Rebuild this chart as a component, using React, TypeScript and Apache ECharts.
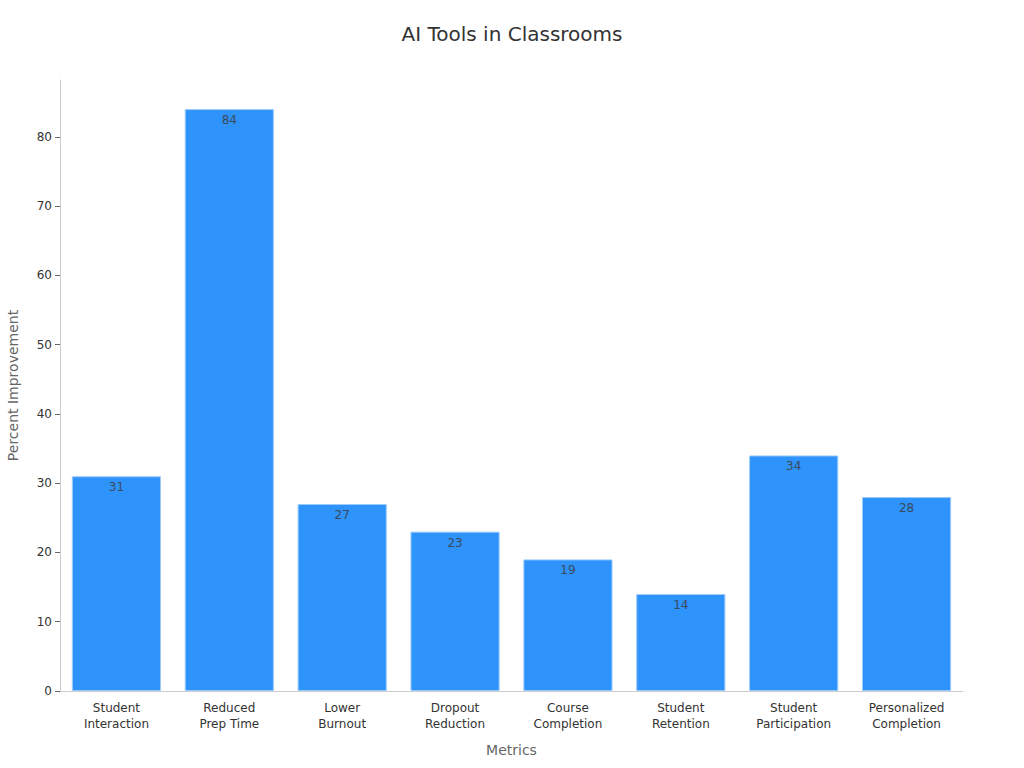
import React, { useEffect, useRef } from "react";
import * as echarts from "echarts";

const categorias = [
  "Student\nInteraction",
  "Reduced\nPrep Time",
  "Lower\nBurnout",
  "Dropout\nReduction",
  "Course\nCompletion",
  "Student\nRetention",
  "Student\nParticipation",
  "Personalized\nCompletion",
];
const valores = [31, 84, 27, 23, 19, 14, 34, 28];
const ticksY = [0, 10, 20, 30, 40, 50, 60, 70, 80];

const App: React.FC = () => {
  const chartRef = useRef<HTMLDivElement | null>(null);

  useEffect(() => {
    if (!chartRef.current) return;
    document.body.style.margin = "0";
    const chart = echarts.init(chartRef.current, undefined, { renderer: "svg" });

    const option: any = {
      animation: false,
      backgroundColor: "#ffffff",
      textStyle: { fontFamily: "DejaVu Sans" },
      title: {
        text: "AI Tools in Classrooms",
        left: "center",
        top: 19,
        textStyle: { fontSize: 20, fontWeight: "normal", color: "#333333" },
      },
      grid: { left: 60, right: 61, top: 80, bottom: 77, containLabel: false, outerBoundsMode: "none" },
      xAxis: {
        type: "category",
        data: categorias,
        name: "Metrics",
        nameLocation: "middle",
        nameGap: 52,
        nameTextStyle: { fontSize: 14, color: "#666666" },
        axisLine: { lineStyle: { color: "#cccccc" } },
        axisTick: { alignWithLabel: true, length: 5, lineStyle: { color: "#666666" } },
        axisLabel: { fontSize: 12, color: "#333333", lineHeight: 16, margin: 9 },
      },
      yAxis: {
        type: "value",
        min: 0,
        max: 88.2,
        name: "Percent Improvement",
        nameLocation: "middle",
        nameGap: 40,
        nameTextStyle: { fontSize: 14, color: "#666666" },
        axisLine: { show: true, lineStyle: { color: "#cccccc" } },
        axisTick: { show: true, length: 5, lineStyle: { color: "#666666" }, customValues: ticksY },
        axisLabel: { fontSize: 12, color: "#333333", customValues: ticksY, margin: 8 },
        splitLine: { show: false },
      },
      series: [
        {
          type: "bar",
          data: valores,
          barCategoryGap: "21%",
          itemStyle: { color: "#2e93fa", borderColor: "#9ccbfb", borderWidth: 1 },
          label: {
            show: true,
            position: "insideTop",
            distance: 5,
            fontSize: 12,
            color: "#3a4a5c",
          },
        },
      ],
    };

    chart.setOption(option);
    return () => chart.dispose();
  }, []);

  return <div ref={chartRef} style={{ width: "1024px", height: "768px" }} />;
};

export default App;
